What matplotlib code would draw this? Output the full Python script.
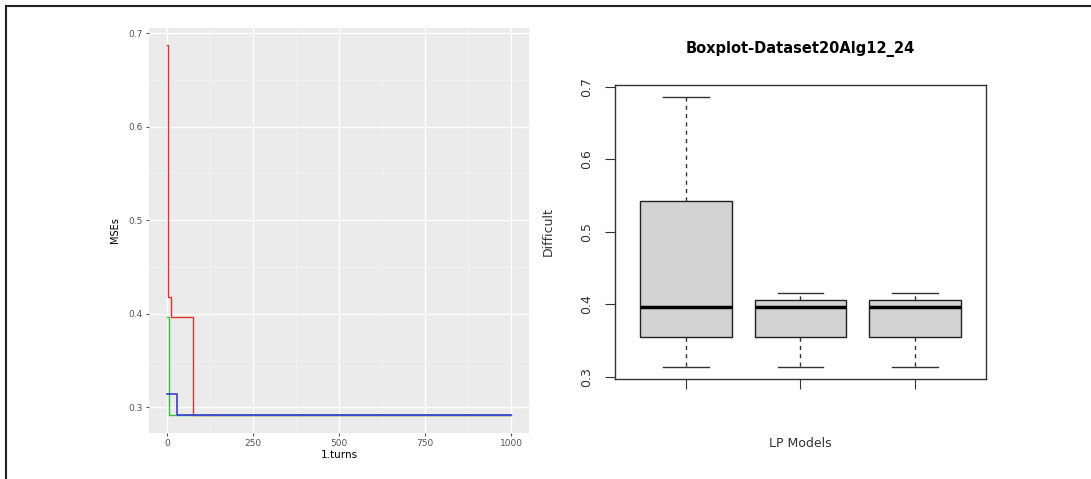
import numpy as np
import matplotlib.pyplot as plt
from matplotlib.lines import Line2D

# step curves (turn where the value changes, value)
red_turns = [1, 4, 11, 76, 1000]
red_vals = [0.687, 0.418, 0.397, 0.292, 0.292]
green_turns = [1, 6, 1000]
green_vals = [0.397, 0.292, 0.292]
blue_turns = [1, 29, 1000]
blue_vals = [0.314, 0.292, 0.292]

# boxplot stats
models = ['1', '2', '3']
whislo = [0.3128, 0.3128, 0.3128]
q1 = [0.3544, 0.3544, 0.3544]
med = [0.396, 0.396, 0.396]
q3 = [0.5425, 0.4064, 0.4064]
whishi = [0.686, 0.416, 0.416]

fig = plt.figure(figsize=(10.91, 4.79), dpi=100)
fig.patch.set_facecolor('white')

# outer frame lines (top and left)
fig.add_artist(Line2D([6/1091, 1], [1-6/479, 1-6/479], color='#222222', lw=1.5))
fig.add_artist(Line2D([6/1091, 6/1091], [0, 1-6/479], color='#222222', lw=1.5))

# ---- left: ggplot style line chart
ax1 = fig.add_axes([149/1091, 1-433/479, 380/1091, 405/479])
ax1.set_facecolor('#EBEBEB')
for s in ax1.spines.values():
    s.set_visible(False)
ax1.set_xlim(-52, 1052)
ax1.set_ylim(0.2725, 0.7055)
ax1.set_xticks([0, 250, 500, 750, 1000])
ax1.set_yticks([0.3, 0.4, 0.5, 0.6, 0.7])
ax1.set_xticks([125, 375, 625, 875], minor=True)
ax1.set_yticks([0.35, 0.45, 0.55, 0.65], minor=True)
ax1.grid(which='major', color='white', lw=1.0)
ax1.grid(which='minor', color='#F5F5F5', lw=0.5)
ax1.set_axisbelow(True)
ax1.tick_params(which='major', length=2.5, color='#555555', labelsize=6.5, labelcolor='#555555', pad=2)
ax1.tick_params(which='minor', length=0)
ax1.set_yticklabels(['0.3', '0.4', '0.5', '0.6', '0.7'])

ax1.plot(red_turns, red_vals, drawstyle='steps-post', color='#E8302A', lw=1.0)
ax1.plot(green_turns, green_vals, drawstyle='steps-post', color='#2DC82D', lw=1.0)
ax1.plot(blue_turns, blue_vals, drawstyle='steps-post', color='#3A3AE0', lw=1.2)
ax1.set_xlabel('1.turns', fontsize=7.5, labelpad=1)
ax1.set_ylabel('MSEs', fontsize=7, labelpad=6)

# ---- right: base-R style boxplot
ax2 = fig.add_axes([615/1091, 1-378.5/479, 371/1091, 293.3/479])
stats = []
for i in range(len(models)):
    stats.append({'whislo': whislo[i], 'q1': q1[i], 'med': med[i],
                  'q3': q3[i], 'whishi': whishi[i], 'fliers': [], 'label': ''})
ax2.bxp(stats, positions=[1, 2, 3], widths=0.8, patch_artist=True,
        boxprops=dict(facecolor='#D3D3D3', edgecolor='#222222', lw=1.0),
        medianprops=dict(color='black', lw=2.5),
        whiskerprops=dict(color='#333333', lw=1.0, linestyle=(0, (3, 3))),
        capprops=dict(color='#333333', lw=1.0), capwidths=0.4)
ax2.set_xlim(0.38, 3.62)
ax2.set_ylim(0.2975, 0.702)
ax2.set_yticks([0.3, 0.4, 0.5, 0.6, 0.7])
ax2.set_yticklabels(['0.3', '0.4', '0.5', '0.6', '0.7'], rotation=90, va='center')
ax2.set_xticks([1, 2, 3])
ax2.set_xticklabels(['', '', ''])
ax2.tick_params(length=7, color='#333333', labelsize=9, labelcolor='#333333', pad=9)
for s in ax2.spines.values():
    s.set_color('#333333')
    s.set_linewidth(1.0)
ax2.set_title('Boxplot-Dataset20Alg12_24', fontsize=10.5, fontweight='bold', pad=23)
ax2.set_xlabel('LP Models', fontsize=9, labelpad=26, color='#333333')
ax2.set_ylabel('Difficult', fontsize=9, labelpad=18, color='#333333')

fig.savefig('out.png', dpi=100)
